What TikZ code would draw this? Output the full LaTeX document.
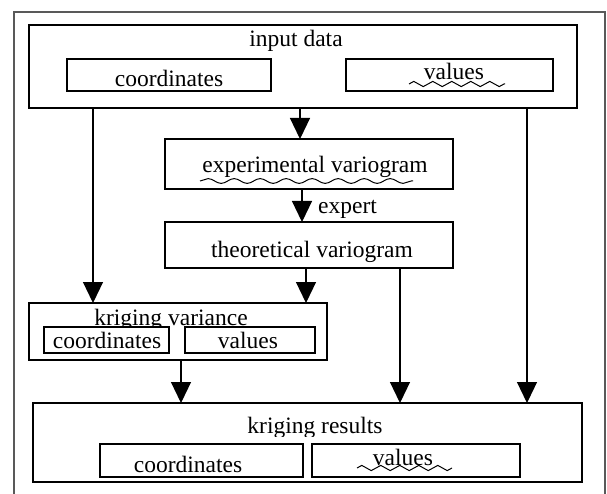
\documentclass[tikz,border=0pt]{standalone}
\usepackage{fontspec}
\setmainfont{Liberation Serif}
\usetikzlibrary{arrows.meta,decorations.pathmorphing}
\begin{document}
\begin{tikzpicture}[x=1pt,y=-1pt,
  box/.style={draw=black,line width=1.4pt,fill=white,inner sep=0pt,outer sep=0pt},
  lbl/.style={inner sep=0pt,anchor=base,font=\fontsize{23.5}{28}\selectfont},
  arr/.style={line width=1.2pt,-{Triangle[width=20pt,length=21pt]}},
  zwave/.style={line width=1pt,decorate,decoration={zigzag,amplitude=2.6pt,segment length=#1}},
  swave/.style={line width=1pt,decorate,decoration={snake,amplitude=2.4pt,segment length=#1}},
  frame/.style={draw=black!65,line width=1.2pt}]
\useasboundingbox (0,0) rectangle (607,494);
% outer frame (open at the bottom)
\coordinate (fbl) at (14,494);
\coordinate (ftl) at (14,12);
\coordinate (ftr) at (605,12);
\coordinate (fbr) at (605,494);
\draw[frame] (fbl) -- (ftl) -- (ftr) -- (fbr);

% input data
\node[box,minimum width=548pt,minimum height=83pt] (inp) at (303,66.5) {};
\node[lbl] (inpT) at (296,47) {input data};
\node[box,minimum width=204pt,minimum height=32pt] (inpC) at (169,75) {};
\node[lbl] (inpCT) at (169,87) {coordinates};
\node[box,minimum width=207pt,minimum height=32pt] (inpV) at (449.5,75) {};
\node[lbl] (inpVT) at (454,80) {values};
\coordinate (w1a) at (409,84);
\coordinate (w1b) at (505,84);
\draw[zwave=19pt] (w1a) -- (w1b);

% experimental variogram
\node[box,minimum width=288pt,minimum height=50pt] (exp) at (309,164) {};
\node[lbl] (expT) at (315,173) {experimental variogram};
\coordinate (w2a) at (200,181);
\coordinate (w2b) at (413,181);
\draw[swave=26pt] (w2a) -- (w2b);

% theoretical variogram
\node[box,minimum width=288pt,minimum height=46pt] (theo) at (309,245) {};
\node[lbl] (theoT) at (312,257) {theoretical variogram};

% kriging variance
\node[box,minimum width=298pt,minimum height=57pt] (kv) at (178,331.5) {};
\begin{scope}
  \clip (30,304) rectangle (326,327);
  \node[lbl] (kvT) at (171,325) {kriging variance};
\end{scope}
\node[box,minimum width=125pt,minimum height=26pt] (kvC) at (106.5,340) {};
\node[lbl] (kvCT) at (107,348) {coordinates};
\node[box,minimum width=130pt,minimum height=26pt] (kvV) at (250,340) {};
\node[lbl] (kvVT) at (248,348) {values};

% kriging results
\node[box,minimum width=549pt,minimum height=79pt] (kr) at (307.5,442.5) {};
\begin{scope}
  \clip (34,404) rectangle (581,436);
  \node[lbl] (krT) at (315,433) {kriging results};
\end{scope}
\node[box,minimum width=203pt,minimum height=33pt] (krC) at (201.5,460.5) {};
\node[lbl] (krCT) at (188,472) {coordinates};
\node[box,minimum width=208pt,minimum height=33pt] (krV) at (416,460.5) {};
\node[lbl] (krVT) at (403,465) {values};
\coordinate (w3a) at (357,468);
\coordinate (w3b) at (452,468);
\draw[zwave=19pt] (w3a) -- (w3b);

% connectors
\draw[arr] (inp.south -| 93,0) -- (kv.north -| 93,0);
\draw[arr] (inp.south -| 300,0) -- (exp.north -| 300,0);
\draw[arr] (inp.south -| 527,0) -- (kr.north -| 527,0);
\draw[arr] (exp.south -| 302,0) -- (theo.north -| 302,0);
\node[lbl,anchor=base west] (expert) at (318,214) {expert};
\draw[arr] (theo.south -| 306,0) -- (kv.north -| 306,0);
\draw[arr] (theo.south -| 400,0) -- (kr.north -| 400,0);
\draw[arr] (kv.south -| 181,0) -- (kr.north -| 181,0);
\end{tikzpicture}
\end{document}
